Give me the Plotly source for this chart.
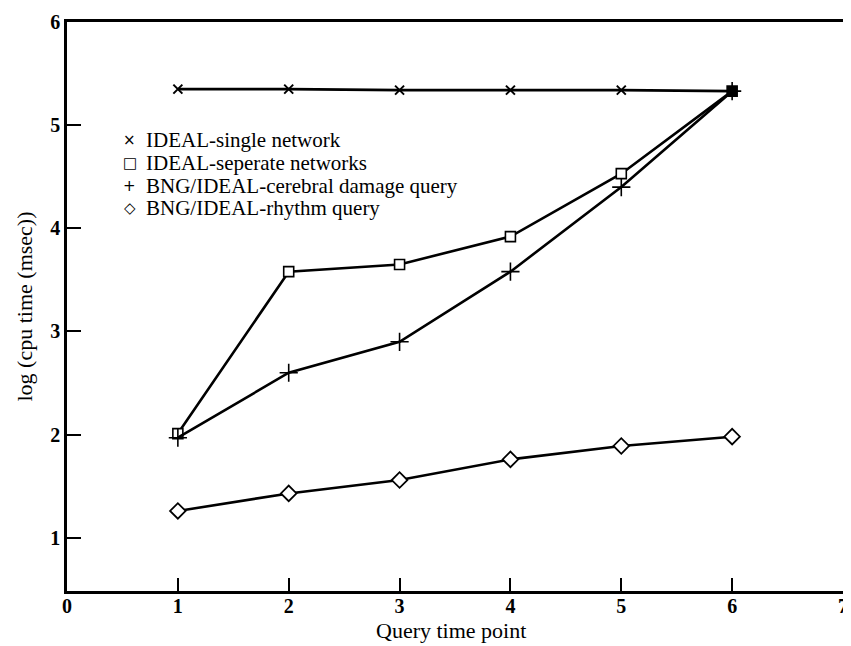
import plotly.graph_objects as go

query_points = [1, 2, 3, 4, 5, 6]
ideal_single = [5.35, 5.35, 5.34, 5.34, 5.34, 5.33]
ideal_separate = [2.01, 3.58, 3.65, 3.92, 4.53, 5.33]
bng_cerebral = [1.97, 2.60, 2.90, 3.58, 4.40, 5.33]
bng_rhythm = [1.26, 1.43, 1.56, 1.76, 1.89, 1.98]

series_names = [
    "IDEAL-single network",
    "IDEAL-seperate networks",
    "BNG/IDEAL-cerebral damage query",
    "BNG/IDEAL-rhythm query",
]
legend_symbols = ["×", "□", "+", "◇"]

x_ticks = [0, 1, 2, 3, 4, 5, 6, 7]
y_ticks = [1, 2, 3, 4, 5, 6]
x_title = "Query time point"
y_title = "log (cpu time (msec))"

# The page body has an 8px default margin, so the figure is drawn 8px smaller
# and all page-pixel positions are shifted by that offset.
OFF = 8
W, H = 851 - OFF, 646 - OFF
L, R, T, B = 67 - OFF, 3, 14 - OFF, 55
PW, PH = W - L - R, H - T - B

SERIF = "Liberation Serif"

fig = go.Figure()
# the last square overlaps the other series and prints as a solid block
square_fill = ["white"] * (len(query_points) - 1) + ["black"]
styles = [
    dict(symbol="x-thin", size=9, color="black", line=dict(color="black", width=2)),
    dict(symbol="square", size=10, color=square_fill, line=dict(color="black", width=1.6)),
    dict(symbol="cross-thin", size=13, color="black", line=dict(color="black", width=1.6)),
    dict(symbol="diamond", size=12, color="white", line=dict(color="black", width=1.8)),
]
for name, ys, st in zip(series_names, [ideal_single, ideal_separate, bng_cerebral, bng_rhythm], styles):
    fig.add_trace(go.Scatter(
        x=query_points, y=ys, mode="lines+markers", name=name,
        line=dict(color="black", width=2.6),
        marker=st, showlegend=False,
    ))

def px_x(p):
    return (p - OFF - L) / PW

def px_y(p):
    return (H - B - (p - OFF)) / PH

rows = [134, 157, 180, 203]
for sym, name, row in zip(legend_symbols, series_names, rows):
    fig.add_annotation(xref="paper", yref="paper", x=px_x(130), y=px_y(row),
                       text=sym, showarrow=False, xanchor="center", yanchor="middle",
                       font=dict(family="DejaVu Sans", size=15, color="black"))
    fig.add_annotation(xref="paper", yref="paper", x=px_x(144), y=px_y(row),
                       text=name, showarrow=False, xanchor="left", yanchor="middle",
                       font=dict(family=SERIF, size=21, color="black"))

# x-axis title placed just under the tick labels
fig.add_annotation(xref="paper", yref="paper", x=px_x(453), y=px_y(631),
                   text=x_title, showarrow=False, xanchor="center", yanchor="middle",
                   font=dict(family=SERIF, size=22, color="black"))

fig.update_layout(
    width=W, height=H,
    margin=dict(l=L, r=R, t=T, b=B, pad=0),
    paper_bgcolor="white", plot_bgcolor="white",
    font=dict(family=SERIF, color="black"),
    xaxis=dict(
        range=[0, 7], tickvals=x_ticks, ticktext=[str(v) for v in x_ticks],
        ticks="inside", ticklen=13, tickwidth=1.5, tickcolor="black",
        showline=True, linecolor="black", linewidth=3, mirror=True,
        showgrid=False, zeroline=False, ticklabelstandoff=-5,
        ticklabeloverflow="allow",
        tickfont=dict(family=SERIF, size=20, color="black", weight="bold"),
    ),
    yaxis=dict(
        range=[0.484, 6.0005], tickvals=y_ticks, ticktext=[str(v) for v in y_ticks],
        ticks="inside", ticklen=14, tickwidth=1.5, tickcolor="black",
        showline=True, linecolor="black", linewidth=2.5, mirror=True,
        showgrid=False, zeroline=False, ticklabeloverflow="allow",
        tickfont=dict(family=SERIF, size=20, color="black", weight="bold"),
        title=dict(text=y_title, font=dict(family=SERIF, size=22), standoff=12),
    ),
)

fig.write_html("out.html")
